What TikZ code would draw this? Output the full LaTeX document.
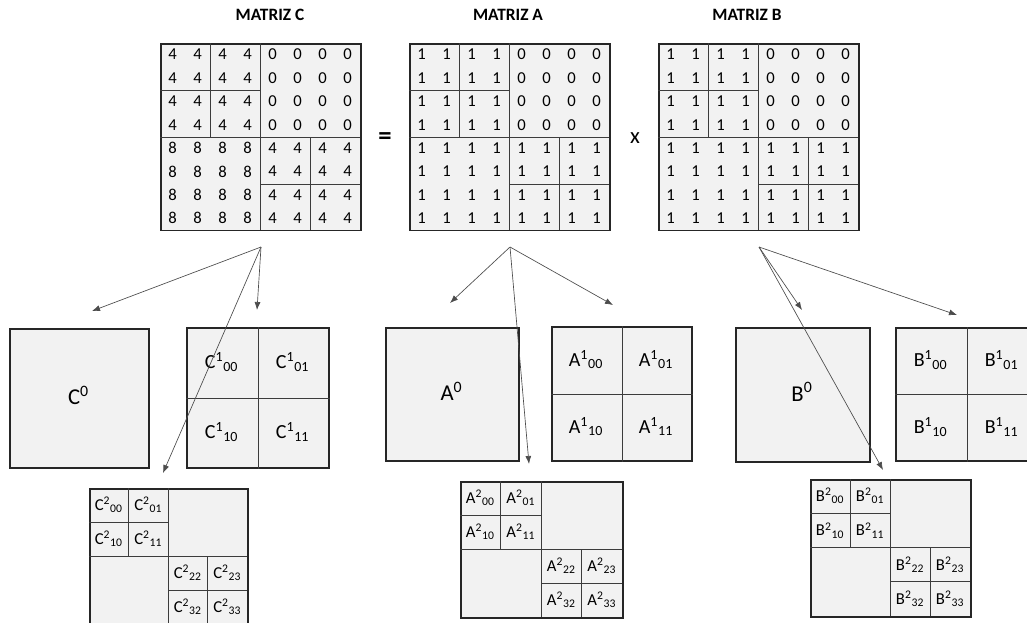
\documentclass[tikz,border=0pt]{standalone}
\usepackage{fontspec}
\setmainfont{Carlito}
\usetikzlibrary{arrows.meta}

\definecolor{fondo}{HTML}{F2F2F2}
\definecolor{borde}{HTML}{262626}

% matriz 8x8 con sus cuatro cuadrantes: nombre, x, sup-izq, sup-der, inf-izq, inf-der
\newcommand{\matriz}[6]{%
  \node[bloque, anchor=north west, minimum width=150pt, minimum height=140pt] (#1) at (#2,43) {};
  \draw[linea] (#2+50,43) -- (#2+50,137);
  \draw[linea] (#2,90) -- (#2+100,90);
  \draw[linea] (#2+100,43) -- (#2+100,230);
  \draw[linea] (#2,137) -- (#2+200,137);
  \draw[linea] (#2+150,137) -- (#2+150,230);
  \draw[linea] (#2+100,184) -- (#2+200,184);
  \foreach \f in {0,...,7}
    \foreach \c in {0,...,7} {
      \pgfmathtruncatemacro\v{\f<4 ? (\c<4 ? #3 : #4) : (\c<4 ? #5 : #6)}
      \node[num] (#1-\f-\c) at (#2+12.5+25*\c, 54.5+23.4*\f) {\v};
    }
  \coordinate (#1-sal) at (#2+101,247);
}

\begin{document}
\begin{tikzpicture}[x=0.75pt,y=-0.75pt,
    bloque/.style={draw=borde, line width=1.3pt, fill=fondo, inner sep=0pt},
    linea/.style={draw=borde!90, line width=0.55pt},
    flecha/.style={draw=black!70, line width=0.5pt, -{Latex[length=6pt,width=4.5pt]}},
    num/.style={font=\fontsize{12.5}{14}\selectfont, inner sep=0pt},
    titulo/.style={font=\bfseries\fontsize{13}{15}\selectfont},
    etq0/.style={font=\fontsize{17}{20}\selectfont},
    etq1/.style={font=\fontsize{15}{18}\selectfont},
    etq2/.style={font=\fontsize{12.5}{14}\selectfont}]

  \useasboundingbox (0,0) rectangle (1027,622);

  % matrices de arriba
  \node[titulo] (tC) at (270,15) {MATRIZ C};
  \node[titulo] (tA) at (508,15) {MATRIZ A};
  \node[titulo] (tB) at (747,15) {MATRIZ B};

  \matriz{C}{160}{4}{0}{8}{4}
  \matriz{A}{409}{1}{0}{1}{1}
  \matriz{B}{658}{1}{0}{1}{1}

  \node[font=\bfseries\fontsize{20}{22}\selectfont] (igual) at (385,139) {=};
  \node[font=\fontsize{17}{20}\selectfont] (por) at (635,138) {x};

  % nivel 0: un solo bloque
  \foreach \m/\px/\py/\t in {C/9/328/139, A/385/327/133, B/735/327/134} {
    \node[bloque, anchor=north west, minimum width=\t*0.75pt, minimum height=\t*0.75pt] (\m0) at (\px,\py) {};
    \node[etq0] (\m0-txt) at (\px+\t/2,\py+\t/2-2) {\m\textsuperscript{0}};
  }

  % nivel 1: cuatro bloques
  \foreach \m/\px/\py/\w/\h in {C/186/327/142/140, A/551/326/140/134, B/895/327/142/133} {
    \node[bloque, anchor=north west, minimum width=\w*0.75pt, minimum height=\h*0.75pt] (\m1) at (\px,\py) {};
    \draw[linea] (\m1.north) -- (\m1.south);
    \draw[linea] (\m1.west) -- (\m1.east);
    \foreach \i in {0,1}
      \foreach \j in {0,1}
        \node[etq1] (\m1-\i\j) at (\px+\w/4+\w/2*\j, \py+\h/4+\h/2*\i) {\m\textsuperscript{1}\textsubscript{\i\j}};
  }

  % nivel 2: bloques de la diagonal
  \foreach \m/\px/\py/\w/\h in {C/89/488/158/136, A/460/481/162/136, B/810/479/160/137} {
    \node[bloque, anchor=north west, minimum width=\w*0.75pt, minimum height=\h*0.75pt] (\m2) at (\px,\py) {};
    \draw[linea] (\px,\py+\h/2) -- (\px+\w,\py+\h/2);
    \draw[linea] (\px+\w/2,\py) -- (\px+\w/2,\py+\h);
    \draw[linea] (\px+\w/4,\py) -- (\px+\w/4,\py+\h/2);
    \draw[linea] (\px,\py+\h/4) -- (\px+\w/2,\py+\h/4);
    \draw[linea] (\px+3*\w/4,\py+\h/2) -- (\px+3*\w/4,\py+\h);
    \draw[linea] (\px+\w/2,\py+3*\h/4) -- (\px+\w,\py+3*\h/4);
    \foreach \i/\j in {0/0,0/1,1/0,1/1,2/2,2/3,3/2,3/3}
      \node[etq2] (\m2-\i\j) at (\px+\w/8+\w/4*\j, \py+\h/8+\h/4*\i) {\m\textsuperscript{2}\textsubscript{\i\j}};
  }

  % puntas de las flechas
  \coordinate (C-p0) at (92,311);
  \coordinate (C-p1) at (257,310);
  \coordinate (C-p2) at (163,473);
  \coordinate (A-p0) at (450,303);
  \coordinate (A-p1) at (613,305);
  \coordinate (A-p2) at (529,464);
  \coordinate (B-p0) at (802,310);
  \coordinate (B-p1) at (957,315);
  \coordinate (B-p2) at (883,470);

  \foreach \m in {C,A,B}
    \foreach \k in {0,1,2}
      \draw[flecha] (\m-sal) -- (\m-p\k);

\end{tikzpicture}
\end{document}
